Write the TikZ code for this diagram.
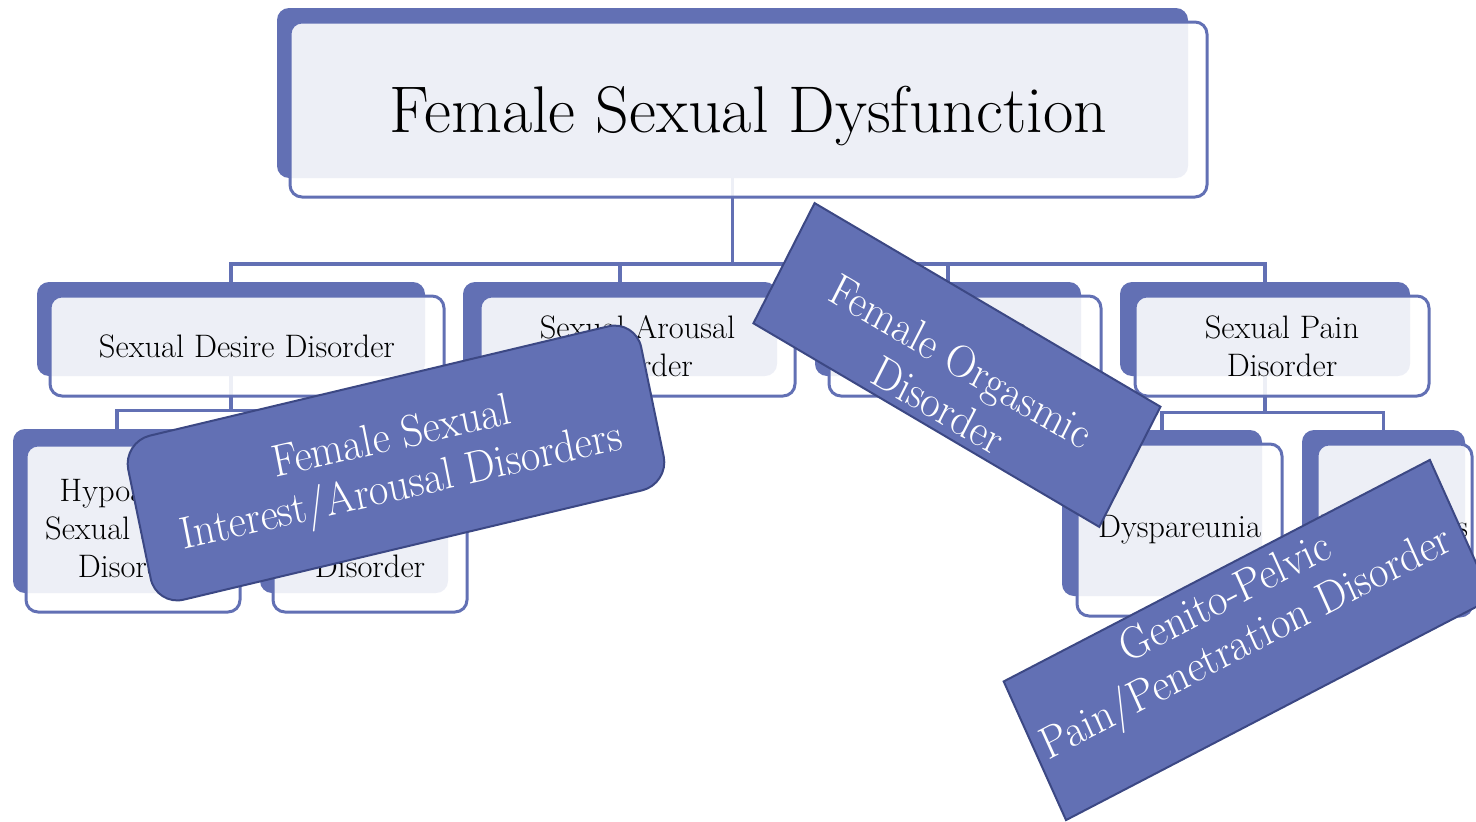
\documentclass[tikz,border=0pt]{standalone}
\usepackage{fontspec}
\definecolor{chartblue}{RGB}{98,112,180}
\definecolor{chartnavy}{RGB}{60,72,132}
\pgfdeclarelayer{wires}
\pgfsetlayers{wires,main}

% back panel: name, x1, y1, x2, y2 (pixel-like units, y downwards)
\newcommand{\backpanel}[5]{%
  \node[backbox, minimum width={#4pt-#2pt}, minimum height={#5pt-#3pt}]
    (#1) at ({(#2+#4)/2},{(#3+#5)/2}) {};}
% front panel: style, name, x1, y1, x2, y2, text
\newcommand{\frontpanel}[7]{%
  \node[frontbox, #1, minimum width={#5pt-#3pt}, minimum height={#6pt-#4pt}]
    (#2) at ({(#3+#5)/2},{(#4+#6)/2}) {#7};}

\begin{document}
\begin{tikzpicture}[x=1pt,y=-1pt,
  backbox/.style={fill=chartblue, rounded corners=12pt, inner sep=0pt},
  frontbox/.style={draw=chartblue, line width=3pt, fill=white, fill opacity=0.89,
    text opacity=1, rounded corners=12pt, inner sep=0pt, align=center, text=black},
  toptext/.style={font=\fontsize{66}{72}\selectfont, text depth=0pt},
  midtext/.style={font=\fontsize{32.5}{38}\selectfont},
  conn/.style={draw=chartblue, line width=3.2pt},
  tag/.style={fill=chartblue, draw=chartnavy, line width=2pt, inner sep=0pt},
  tagtext/.style={text=white, align=center, inner sep=0pt,
    font=\fontsize{45.5}{50}\selectfont},
]
\useasboundingbox (0,0) rectangle (1476,822);
\clip (0,0) rectangle (1476,822);

% root
\backpanel{t0}{277}{8}{1188}{178}
\frontpanel{toptext}{t0f}{290}{22}{1207}{197}{Female Sexual Dysfunction}

% second level
\backpanel{b1}{37}{282}{425}{376}
\frontpanel{midtext}{f1}{50}{296}{444}{396}{Sexual Desire Disorder}
\backpanel{b2}{463}{282}{777}{376}
\frontpanel{midtext}{f2}{480}{296}{795}{396}{Sexual Arousal\\Disorder}
\backpanel{b3}{815}{282}{1081}{376}
\frontpanel{midtext}{f3}{829}{296}{1101}{396}{Orgasmic\\Disorder}
\backpanel{b4}{1120}{282}{1410}{376}
\frontpanel{midtext}{f4}{1135}{296}{1429}{396}{Sexual Pain\\Disorder}

% third level
\backpanel{c1}{13}{429}{221}{593}
\frontpanel{midtext}{g1}{26}{445}{240}{612}{Hypoactive\\Sexual Desire\\Disorder}
\backpanel{c2}{260}{429}{448}{593}
\frontpanel{midtext}{g2}{273}{445}{467}{612}{Sexual\\Aversion\\Disorder}
\backpanel{c3}{1062}{430}{1262}{596}
\frontpanel{midtext}{g3}{1077}{444}{1282}{616}{Dyspareunia}
\backpanel{c4}{1302}{430}{1465}{596}
\frontpanel{midtext}{g4}{1317}{444}{1472}{616}{Vaginismus}

% connectors, kept underneath the panels
\begin{pgfonlayer}{wires}
  \coordinate (bar) at (732.5,264);
  \draw[conn] (t0.south) -- (bar);
  \foreach \n in {b1,b2,b3,b4} \draw[conn] (bar) -| (\n.north);
  \path (b1.south) ++(0,34) coordinate (barL);
  \draw[conn] (b1.south) -- (barL);
  \foreach \n in {c1,c2} \draw[conn] (barL) -| (\n.north);
  \path (b4.south) ++(0,36) coordinate (barR);
  \draw[conn] (b4.south) -- (barR);
  \foreach \n in {c3,c4} \draw[conn] (barR) -| (\n.north);
\end{pgfonlayer}

% tilted labels on top, slightly narrowed horizontally
\begin{scope}[xscale=0.93, transform shape]
  \node[tag, rounded corners=28pt, minimum width=565pt, minimum height=168pt,
    rotate=12.5] (fsiad) at ({396/0.93},463) {};
  \node[tagtext, rotate=12] (fsiadt) at ({397/0.93},465)
    {Female Sexual\\Interest/Arousal Disorders};

  \node[tag, minimum width=424pt, minimum height=137pt, rotate=-28.7]
    (fod) at ({957/0.93},365) {};
  \node[tagtext, rotate=-28.7] (fodt) at ({950/0.93},383)
    {Female Orgasmic\\Disorder};

  \node[tag, minimum width=509pt, minimum height=154pt, rotate=25.8]
    (gppd) at ({1248/0.93},640) {};
  \node[tagtext, rotate=25.8] (gppdt) at ({1237/0.93},623)
    {Genito-Pelvic\\Pain/Penetration Disorder};
\end{scope}
\end{tikzpicture}
\end{document}
